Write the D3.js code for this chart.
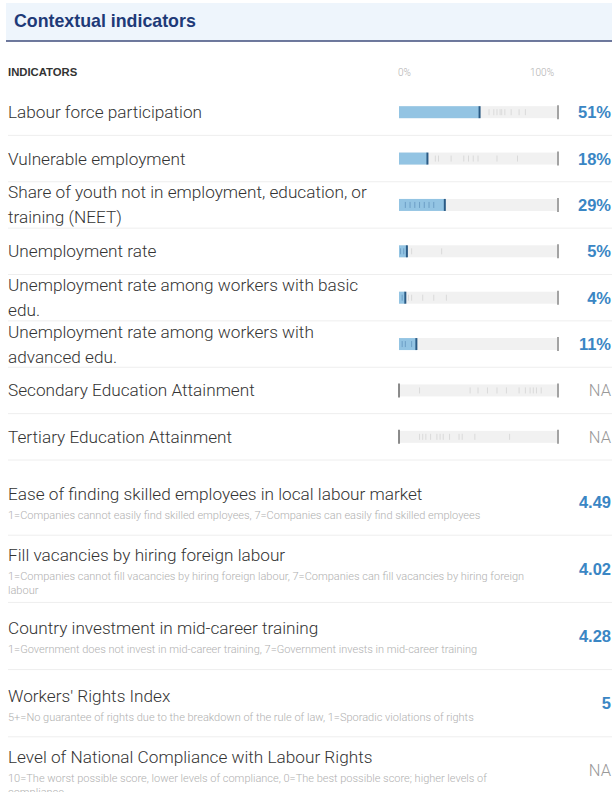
<!DOCTYPE html>
<html><head><meta charset="utf-8">
<script src="https://cdn.jsdelivr.net/npm/d3@7"></script>
<style>body{margin:0;background:#fff}svg{display:block}</style>
</head><body>
<svg id="c" width="612" height="792"></svg>
<script>
const chartTitle = "Contextual indicators";
const columnHeader = "INDICATORS";
const axisTicks = [0, 100];
const barLabels = [
  "Labour force participation",
  "Vulnerable employment",
  "Share of youth not in employment, education, or\ntraining (NEET)",
  "Unemployment rate",
  "Unemployment rate among workers with basic\nedu.",
  "Unemployment rate among workers with\nadvanced edu.",
  "Secondary Education Attainment",
  "Tertiary Education Attainment"
];
const barValues = [51, 18, 29, 5, 4, 11, null, null];
const peerValues = [
  [57, 60, 62, 64, 65, 67, 71, 76, 80],
  [23, 25, 33, 41, 44, 47, 50, 62, 75],
  [4, 7, 10, 13, 16, 19, 22],
  [1, 3, 5, 8, 27],
  [2, 6, 8, 15, 22, 30],
  [2, 4, 8],
  [13, 45, 50, 56, 62, 68, 76, 80, 83, 85, 87, 90],
  [13, 15, 17, 20, 24, 26, 28, 32, 38, 40, 48, 70]
];
const scoreLabels = [
  "Ease of finding skilled employees in local labour market",
  "Fill vacancies by hiring foreign labour",
  "Country investment in mid-career training",
  "Workers' Rights Index",
  "Level of National Compliance with Labour Rights"
];
const scoreNotes = [
  "1=Companies cannot easily find skilled employees, 7=Companies can easily find skilled employees",
  "1=Companies cannot fill vacancies by hiring foreign labour, 7=Companies can fill vacancies by hiring foreign\nlabour",
  "1=Government does not invest in mid-career training, 7=Government invests in mid-career training",
  "5+=No guarantee of rights due to the breakdown of the rule of law, 1=Sporadic violations of rights",
  "10=The worst possible score, lower levels of compliance, 0=The best possible score; higher levels of\ncompliance"
];
const scoreValues = [4.49, 4.02, 4.28, 5, null];

const FONT = "'Liberation Sans', Arial, Helvetica, sans-serif";
const LIGHT = "Roboto, 'Liberation Sans', sans-serif";
const svg = d3.select("#c").style("font-family", FONT);

// header band
svg.append("rect").attr("x", 6).attr("y", 3).attr("width", 606).attr("height", 38).attr("fill", "#eef5fc");
svg.append("line").attr("x1", 6).attr("x2", 612).attr("y1", 41).attr("y2", 41).attr("stroke", "#3f4d7c").attr("stroke-width", 1.5);
svg.append("text").attr("x", 14).attr("y", 27).text(chartTitle)
  .attr("font-size", 17.8).attr("font-weight", "bold").attr("fill", "#1e3a78");

svg.append("text").attr("x", 8).attr("y", 76).text(columnHeader)
  .attr("font-size", 11.3).attr("font-weight", "bold").attr("fill", "#333");

const x = d3.scaleLinear().domain([0, 100]).range([399, 557]);
svg.selectAll("text.ax").data(axisTicks).join("text").attr("class", "ax")
  .attr("x", d => d === 0 ? x(d) - 1 : x(d) - 27).attr("y", 76)
  .text(d => d + "%").attr("font-size", 10).attr("fill", "#b0b0b0")
  .style("font-family", LIGHT).attr("font-weight", 300);

const yb = d3.scaleBand().domain(d3.range(barLabels.length)).range([89, 460]);
const rows = svg.selectAll("g.row").data(barLabels).join("g").attr("class", "row")
  .attr("transform", (d, i) => `translate(0,${yb(i)})`);
const bh = yb.bandwidth();

rows.append("line").attr("x1", 8).attr("x2", 612).attr("y1", bh).attr("y2", bh)
  .attr("stroke", "#eeeeee");

rows.each(function(label, i) {
  const g = d3.select(this);
  const lines = label.split("\n");
  const cy = bh / 2;
  const t = g.append("text").attr("font-size", 17.2).attr("fill", "#333")
    .style("font-family", LIGHT).attr("font-weight", 300);
  lines.forEach((ln, k) => {
    const y0 = lines.length === 1 ? cy + 6 : cy - 6.5 + 25 * k;
    t.append("tspan").attr("x", 8).attr("y", y0).text(ln);
  });
  const v = barValues[i];
  g.append("rect").attr("x", x(0)).attr("y", cy - 6).attr("width", x(100) - x(0)).attr("height", 12).attr("fill", "#f1f1f1");
  if (v != null) {
    g.append("rect").attr("x", x(0)).attr("y", cy - 6).attr("width", x(v) - x(0)).attr("height", 12).attr("fill", "#93c4e3");
  }
  g.selectAll("line.peer").data(peerValues[i]).join("line").attr("class", "peer")
    .attr("x1", d => x(d)).attr("x2", d => x(d)).attr("y1", cy - 3).attr("y2", cy + 3)
    .attr("stroke", d => (v != null && d < v) ? "#6d9fc6" : "#dadada").attr("stroke-width", 1);
  if (v != null) {
    g.append("line").attr("x1", x(v)).attr("x2", x(v)).attr("y1", cy - 6).attr("y2", cy + 6)
      .attr("stroke", "#2a5a84").attr("stroke-width", 2);
  } else {
    g.append("line").attr("x1", x(0)).attr("x2", x(0)).attr("y1", cy - 7).attr("y2", cy + 7)
      .attr("stroke", "#666").attr("stroke-width", 1.5);
  }
  g.append("line").attr("x1", x(100) + 1).attr("x2", x(100) + 1).attr("y1", cy - 7).attr("y2", cy + 7)
    .attr("stroke", "#666").attr("stroke-width", 1.2);
  g.append("text").attr("x", 611).attr("y", cy + 6).attr("text-anchor", "end")
    .attr("font-size", 16.5).attr("font-weight", v != null ? "bold" : 300)
    .style("font-family", v != null ? FONT : LIGHT)
    .attr("fill", v != null ? "#3a86c4" : "#999")
    .text(v != null ? v + "%" : "NA");
});

const ys = d3.scaleBand().domain(d3.range(scoreLabels.length)).range([468, 804]);
const srows = svg.selectAll("g.srow").data(scoreLabels).join("g").attr("class", "srow")
  .attr("transform", (d, i) => `translate(0,${ys(i)})`);
const sh = ys.bandwidth();
srows.append("line").attr("x1", 8).attr("x2", 612).attr("y1", sh).attr("y2", sh).attr("stroke", "#eeeeee");
srows.each(function(d, i) {
  const g = d3.select(this);
  const notes = scoreNotes[i].split("\n");
  const shift = notes.length > 1 ? -6 : 0;
  g.append("text").attr("x", 8).attr("y", 32 + shift).text(d).attr("font-size", 17.2).attr("fill", "#333")
    .style("font-family", LIGHT).attr("font-weight", 300);
  const t = g.append("text").attr("font-size", 11).attr("fill", "#b0b0b0")
    .style("font-family", LIGHT).attr("font-weight", 300);
  notes.forEach((ln, k) => {
    t.append("tspan").attr("x", 8).attr("y", 51 + shift + 14 * k).text(ln);
  });
  const v = scoreValues[i];
  g.append("text").attr("x", 611).attr("y", sh / 2 + 6).attr("text-anchor", "end")
    .attr("font-size", 16.5).attr("font-weight", v != null ? "bold" : 300)
    .style("font-family", v != null ? FONT : LIGHT)
    .attr("fill", v != null ? "#3a86c4" : "#999")
    .text(v != null ? String(v) : "NA");
});
</script>
</body></html>
